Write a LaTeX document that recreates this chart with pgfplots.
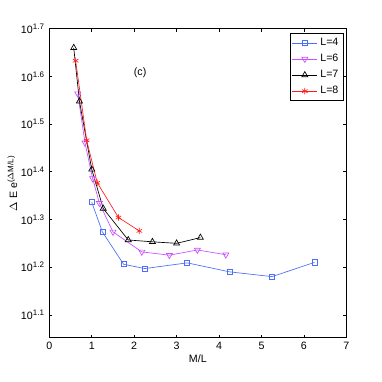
\documentclass[border=0pt]{standalone}
\usepackage{pgfplots}
\pgfplotsset{compat=1.18}
\usepackage{fontspec}
\setmainfont{Liberation Sans}
\definecolor{lblue}{RGB}{77,110,250}
\definecolor{lmag}{RGB}{200,80,255}
\definecolor{lred}{RGB}{255,30,30}
\begin{document}
\begin{tikzpicture}
\begin{axis}[
    scale only axis,
    width=222.75pt,
    height=231.75pt,
    ymode=log,
    xmin=0, xmax=7,
    ymin=11.27, ymax=50.12,
    xtick={0,1,2,3,4,5,6,7},
    ytick={12.589,15.849,19.953,25.119,31.623,39.811,50.119},
    yticklabels={10\textsuperscript{1.1},10\textsuperscript{1.2},10\textsuperscript{1.3},10\textsuperscript{1.4},10\textsuperscript{1.5},10\textsuperscript{1.6},10\textsuperscript{1.7}},
    minor tick num=0,
    log basis y=10,
    yminorticks=false,
    tick align=inside,
    major tick length=2.2pt,
    tick style={black, line width=0.4pt},
    axis line style={line width=0.5pt},
    tick label style={font=\fontsize{8}{9}\selectfont},
    /pgf/number format/assume math mode=true,
    xlabel={M/L},
    ylabel={$\Delta$ E e\textsuperscript{($\Delta$M/L)}},
    label style={font=\fontsize{8}{9}\selectfont},
    xlabel style={yshift=3pt},
    ylabel style={yshift=-4pt},
    legend style={at={(0.99,0.985)}, anchor=north east, draw=black,
        font=\fontsize{8}{9}\selectfont, row sep=1pt, inner sep=1.5pt,
        cells={anchor=west}},
    legend cell align=left,
    legend image code/.code={\draw[mark repeat=2,mark phase=2] plot coordinates {(0cm,0cm)(0.33cm,0cm)(0.66cm,0cm)};},
    every axis plot/.append style={line width=0.5pt},
]
\addplot[color=lblue, mark=square, mark size=1.9pt, mark options={solid}] coordinates {
    (1.0,21.68) (1.25,18.79) (1.75,16.07) (2.25,15.74) (3.25,16.18) (4.25,15.49) (5.25,15.14) (6.25,16.22)
};
\addlegendentry{L=4}
\addplot[color=lmag, mark=triangle, mark size=2.6pt, mark options={rotate=180}] coordinates {
    (0.67,36.64) (0.84,28.90) (1.02,24.32) (1.18,21.58) (1.5,18.79) (2.18,17.06) (2.83,16.79) (3.49,17.22) (4.16,16.83)
};
\addlegendentry{L=6}
\addplot[color=black, mark=triangle, mark size=2.6pt] coordinates {
    (0.575,45.71) (0.71,35.32) (1.0,25.41) (1.27,21.04) (1.86,18.07) (2.43,17.91) (3.0,17.78) (3.56,18.28)
};
\addlegendentry{L=7}
\addplot[color=lred, mark=asterisk, mark size=2.4pt] coordinates {
    (0.62,42.95) (0.88,29.24) (1.13,23.82) (1.63,20.14) (2.12,18.88)
};
\addlegendentry{L=8}
\node[font=\fontsize{8}{9}\selectfont] at (axis cs:2.14,40.55) {(c)};
\end{axis}
\pgfresetboundingbox
\path[use as bounding box] (-37pt,-33.2pt) rectangle ++(286.5pt,286.5pt);
\end{tikzpicture}
\end{document}
